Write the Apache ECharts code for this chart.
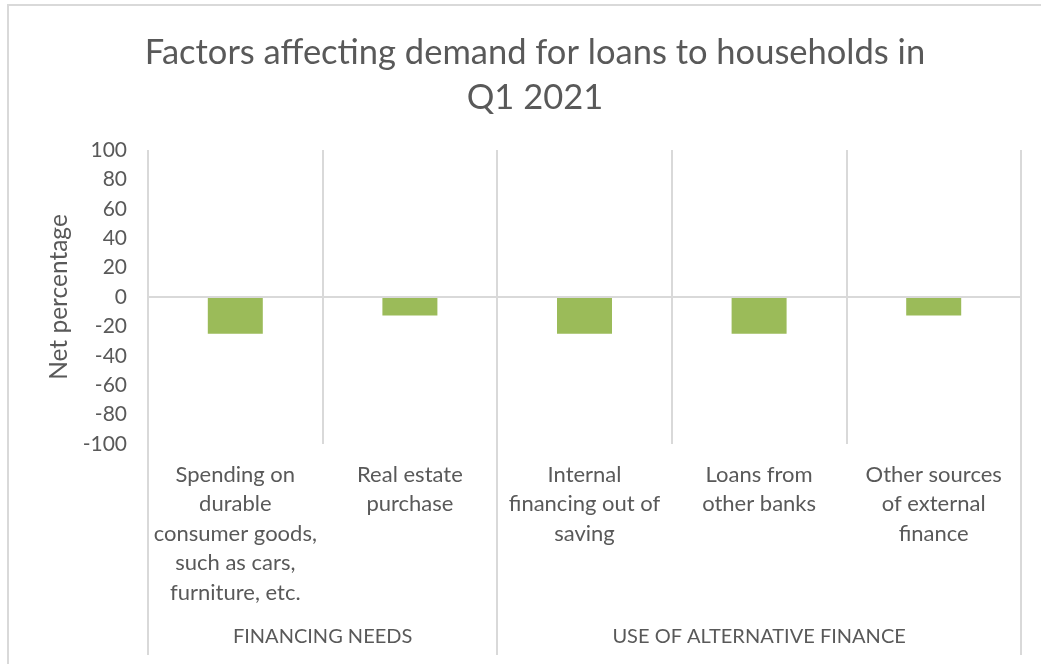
<!DOCTYPE html>
<html>
<head>
<meta charset="utf-8">
<script src="https://cdn.jsdelivr.net/npm/echarts@6/dist/echarts.min.js"></script>
<style>
  html, body { margin: 0; padding: 0; background: #ffffff; }
  #chart { width: 1041px; height: 664px; }
</style>
</head>
<body>
<div id="chart"></div>
<script>
// Survey factors (labels wrapped by hand) and their net percentages
const categories = [
  'Spending on\ndurable\nconsumer goods,\nsuch as cars,\nfurniture, etc.',
  'Real estate\npurchase',
  'Internal\nfinancing out of\nsaving',
  'Loans from\nother banks',
  'Other sources\nof external\nfinance'
];
const netPercentage = [-25, -12.5, -25, -25, -12.5];

// Groups spanning consecutive categories
const groupNames = ['FINANCING NEEDS', 'USE OF ALTERNATIVE FINANCE'];
const groupSizes = [2, 3];

const yTicks = { min: -100, max: 100, interval: 20 };

// Half-category slots for the group axis: boundaries on even slots, group centres in between
const slotCount = categories.length * 2 + 1;
const groupSlots = new Array(slotCount).fill('');
const boundarySlots = new Set([0]);
const labelSlots = new Set();
let start = 0;
groupNames.forEach((name, i) => {
  const centre = 2 * start + groupSizes[i];
  groupSlots[centre] = name;
  labelSlots.add(centre);
  start += groupSizes[i];
  boundarySlots.add(2 * start);
});

const textColor = '#595959';
const lineColor = '#d9d9d9';
const fontFamily = 'Lato, "Liberation Sans", sans-serif';

const chart = echarts.init(document.getElementById('chart'));
chart.setOption({
  backgroundColor: '#ffffff',
  animation: false,
  textStyle: { fontFamily: fontFamily },
  title: {
    text: 'Factors affecting demand for loans to households in\nQ1 2021',
    left: 530,
    top: 25,
    textAlign: 'center',
    textStyle: {
      fontFamily: fontFamily,
      fontSize: 34.5,
      fontWeight: 'normal',
      color: textColor,
      lineHeight: 45
    }
  },
  graphic: [{
    type: 'rect',
    shape: { x: 8, y: 5, width: 1100, height: 700 },
    style: { fill: 'none', stroke: lineColor, lineWidth: 2 },
    silent: true
  }],
  grid: { left: 148, right: 20, top: 150, bottom: 220, containLabel: false },
  xAxis: [{
    type: 'category',
    position: 'bottom',
    offset: 0,
    data: categories,
    boundaryGap: true,
    axisLine: { show: false },
    axisTick: { show: false },
    splitLine: { show: true, lineStyle: { color: lineColor, width: 2 } },
    axisLabel: {
      interval: 0,
      margin: 16,
      fontSize: 22,
      lineHeight: 29.5,
      color: textColor,
      align: 'center'
    }
  }, {
    type: 'category',
    position: 'bottom',
    offset: 0,
    data: groupSlots,
    boundaryGap: false,
    axisLine: { show: false },
    axisTick: {
      show: true,
      interval: (index) => boundarySlots.has(index),
      length: 211,
      lineStyle: { color: lineColor, width: 2 }
    },
    splitLine: { show: false },
    axisLabel: {
      interval: (index) => labelSlots.has(index),
      margin: 182,
      fontSize: 20,
      lineHeight: 22,
      color: textColor
    }
  }],
  yAxis: {
    type: 'value',
    min: yTicks.min,
    max: yTicks.max,
    interval: yTicks.interval,
    name: 'Net percentage',
    nameLocation: 'middle',
    nameGap: 73,
    nameRotate: 90,
    nameTextStyle: { fontSize: 24.5, color: textColor },
    axisLine: { show: false },
    axisTick: { show: false },
    splitLine: { show: false },
    axisLabel: { fontSize: 21, color: textColor, margin: 21 }
  },
  series: [{
    type: 'bar',
    xAxisIndex: 0,
    data: netPercentage,
    barWidth: '31.5%',
    itemStyle: { color: '#9bbb59' },
    markLine: {
      silent: true,
      symbol: 'none',
      label: { show: false },
      lineStyle: { color: lineColor, width: 2, type: 'solid' },
      data: [{ yAxis: 0 }]
    }
  }]
});
</script>
</body>
</html>
